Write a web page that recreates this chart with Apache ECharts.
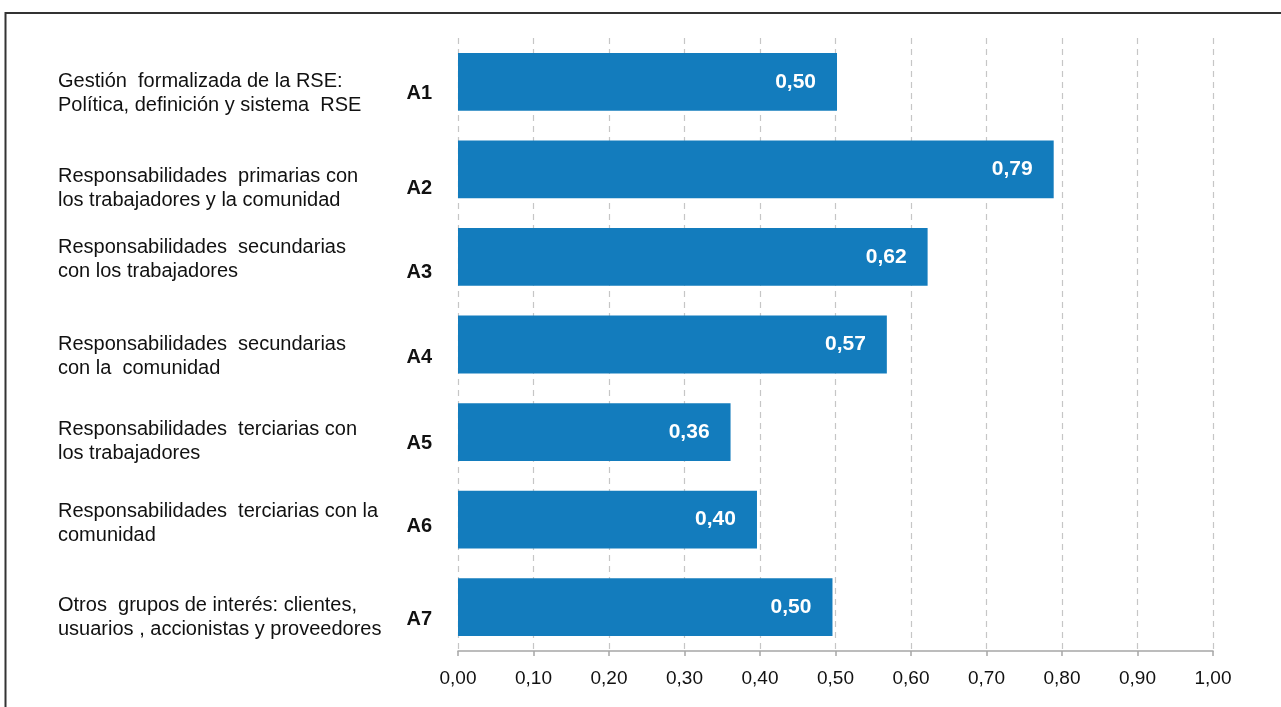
<!DOCTYPE html>
<html>
<head>
<meta charset="utf-8">
<script src="https://cdn.jsdelivr.net/npm/echarts@6/dist/echarts.min.js"></script>
<style>
  html, body { margin: 0; padding: 0; background: #ffffff; }
  #chart { width: 1281px; height: 707px; }
</style>
</head>
<body>
<div id="chart"></div>
<script>
// Dimension codes and their descriptions (top to bottom)
const codes = ['A1', 'A2', 'A3', 'A4', 'A5', 'A6', 'A7'];
const descriptions = [
  'Gestión  formalizada de la RSE:\nPolítica, definición y sistema  RSE',
  'Responsabilidades  primarias con\nlos trabajadores y la comunidad',
  'Responsabilidades  secundarias\ncon los trabajadores',
  'Responsabilidades  secundarias\ncon la  comunidad',
  'Responsabilidades  terciarias con\nlos trabajadores',
  'Responsabilidades  terciarias con la\ncomunidad',
  'Otros  grupos de interés: clientes,\nusuarios , accionistas y proveedores'
];
// Index value per dimension
const scores = [0.502, 0.789, 0.622, 0.568, 0.361, 0.396, 0.496];
// Value axis range
const axisMin = 0;
const axisMax = 1;
const axisStep = 0.1;

// Vertical nudges (px, downwards) of the left-hand labels, per row
const descShift = [12, 19, 3, 12, 9, 4, 10];
const codeShift = [12, 19, 16, 13, 11, 7, 12];

const fmt = v => v.toFixed(2).replace('.', ',');
const FONT = '"Liberation Sans", Arial, Helvetica, sans-serif';

// A thin spacer line on top of a label pushes the centred block down by half its height
function spacerStyles(shifts) {
  const rich = {};
  shifts.forEach((s, i) => {
    rich['s' + i] = { fontSize: 1, lineHeight: Math.max(1, s * 2), height: Math.max(1, s * 2) };
  });
  return rich;
}

const chart = echarts.init(document.getElementById('chart'), null, { renderer: 'canvas' });

chart.setOption({
  animation: false,
  backgroundColor: '#ffffff',
  graphic: [{
    type: 'rect',
    silent: true,
    shape: { x: 5.5, y: 13, width: 1400, height: 800 },
    style: { fill: 'none', stroke: '#333333', lineWidth: 2 }
  }],
  grid: {
    left: 458, right: 68, top: 38, bottom: 56,
    containLabel: false,
    outerBoundsMode: 'none'
  },
  xAxis: {
    type: 'value',
    min: axisMin,
    max: axisMax,
    interval: axisStep,
    axisLine: { show: true, lineStyle: { color: '#a6a6a6', width: 1.5 } },
    axisTick: { show: true, length: 5, lineStyle: { color: '#a6a6a6', width: 1.5 } },
    axisLabel: {
      formatter: v => fmt(v),
      color: '#111111',
      fontFamily: FONT,
      fontSize: 19,
      margin: 18
    },
    splitLine: { show: true, lineStyle: { color: '#c6c6c6', type: [6, 5], width: 1.2 } }
  },
  yAxis: [{
    type: 'category',
    inverse: true,
    data: descriptions,
    position: 'left',
    axisLine: { show: false },
    axisTick: { show: false },
    axisLabel: {
      align: 'left',
      margin: 400,
      formatter: (value, idx) =>
        '{s' + idx + '| }\n' + value.split('\n').map(l => '{t|' + l + '}').join('\n'),
      rich: Object.assign({
        t: { color: '#111111', fontFamily: FONT, fontSize: 20, lineHeight: 24, align: 'left' }
      }, spacerStyles(descShift))
    }
  }, {
    type: 'category',
    inverse: true,
    data: codes,
    position: 'left',
    offset: 0,
    axisLine: { show: false },
    axisTick: { show: false },
    axisLabel: {
      align: 'right',
      margin: 26,
      formatter: (value, idx) => '{s' + idx + '| }\n{c|' + value + '}',
      rich: Object.assign({
        c: { color: '#111111', fontFamily: FONT, fontSize: 20, fontWeight: 'bold', lineHeight: 22, align: 'right' }
      }, spacerStyles(codeShift))
    }
  }],
  series: [{
    type: 'bar',
    yAxisIndex: 0,
    data: scores,
    barCategoryGap: '34%',
    itemStyle: { color: '#137cbd' },
    label: {
      show: true,
      position: 'insideRight',
      distance: 21,
      formatter: p => fmt(p.value),
      color: '#ffffff',
      fontFamily: FONT,
      fontSize: 21,
      fontWeight: 'bold'
    }
  }]
});
</script>
</body>
</html>
